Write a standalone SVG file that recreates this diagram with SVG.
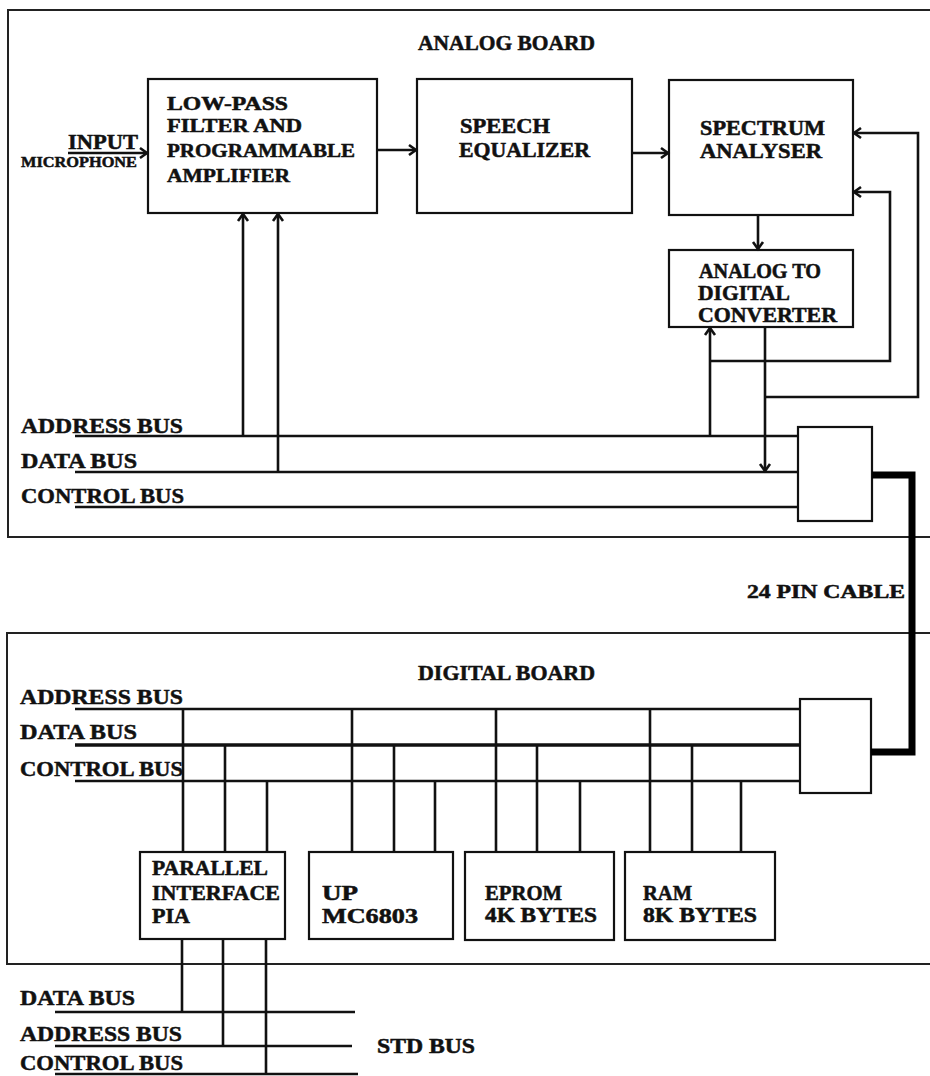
<svg xmlns="http://www.w3.org/2000/svg" width="930" height="1076" viewBox="0 0 930 1076">
<style>
text{font-family:"Liberation Serif","DejaVu Serif",serif;font-weight:bold;fill:#111;stroke:#111;stroke-width:0.5}
.t{font-size:20px}
.lp{font-size:19px}
.bus{font-size:22px}
.sm{font-size:15px}
.box{fill:none;stroke:#111;stroke-width:2.2}
.ln{fill:none;stroke:#111;stroke-width:2.6}
.frame{fill:none;stroke:#222;stroke-width:2}
.cable{fill:none;stroke:#000;stroke-width:7;stroke-linejoin:miter}
</style>
<defs>
<marker id="ar" markerUnits="userSpaceOnUse" markerWidth="14" markerHeight="14" refX="0" refY="0" viewBox="-10 -7 12 14" orient="auto">
<path d="M-7,-5 L0,0 L-7,5" fill="none" stroke="#111" stroke-width="2.6"/>
</marker>
</defs>
<rect width="930" height="1076" fill="#fff"/>

<g id="analog-board">
<path class="frame" d="M930,10 H8 V537 H930"/>
<text x="418" y="50" style="font-size:20px" textLength="177" lengthAdjust="spacingAndGlyphs">ANALOG BOARD</text>
</g>

<g id="input">
<text x="68" y="149" style="font-size:21px" textLength="70" lengthAdjust="spacingAndGlyphs">INPUT</text>
<text x="21" y="167" class="sm" textLength="116" lengthAdjust="spacingAndGlyphs">MICROPHONE</text>
</g>

<g id="lpf">
<rect class="box" x="148" y="79" width="229" height="134"/>
<text x="167" y="110" class="lp" textLength="121" lengthAdjust="spacingAndGlyphs">LOW-PASS</text>
<text x="167" y="132" class="lp" textLength="135" lengthAdjust="spacingAndGlyphs">FILTER AND</text>
<text x="167" y="157" class="lp" textLength="188" lengthAdjust="spacingAndGlyphs">PROGRAMMABLE</text>
<text x="167" y="182" class="lp" textLength="123" lengthAdjust="spacingAndGlyphs">AMPLIFIER</text>
</g>

<g id="speech-equalizer">
<rect class="box" x="417" y="79" width="215" height="134"/>
<text x="460" y="133" class="t" textLength="90" lengthAdjust="spacingAndGlyphs">SPEECH</text>
<text x="459" y="157" class="t" textLength="131" lengthAdjust="spacingAndGlyphs">EQUALIZER</text>
</g>

<g id="spectrum-analyser">
<rect class="box" x="669" y="80" width="184" height="135"/>
<text x="700" y="135" class="t" textLength="125" lengthAdjust="spacingAndGlyphs">SPECTRUM</text>
<text x="700" y="158" class="t" textLength="122" lengthAdjust="spacingAndGlyphs">ANALYSER</text>
</g>

<g id="adc">
<rect class="box" x="669" y="250" width="184" height="77"/>
<text x="699" y="278" class="t" textLength="122" lengthAdjust="spacingAndGlyphs">ANALOG TO</text>
<text x="698" y="300" class="t" textLength="92" lengthAdjust="spacingAndGlyphs">DIGITAL</text>
<text x="698" y="322" class="t" textLength="139" lengthAdjust="spacingAndGlyphs">CONVERTER</text>
</g>

<g id="analog-interface">
<rect class="box" x="798" y="427" width="74" height="94"/>
</g>

<g id="analog-bus-labels">
<text x="21" y="433" class="bus" textLength="162" lengthAdjust="spacingAndGlyphs">ADDRESS BUS</text>
<text x="21" y="468" class="bus" textLength="116" lengthAdjust="spacingAndGlyphs">DATA BUS</text>
<text x="21" y="503" class="bus" textLength="163" lengthAdjust="spacingAndGlyphs">CONTROL BUS</text>
</g>

<g id="cable-label">
<text x="747" y="598" style="font-size:18px" textLength="158" lengthAdjust="spacingAndGlyphs">24 PIN CABLE</text>
</g>

<g id="digital-board">
<path class="frame" d="M930,633 H7 V964 H930"/>
<text x="418" y="680" style="font-size:20px" textLength="177" lengthAdjust="spacingAndGlyphs">DIGITAL BOARD</text>
</g>

<g id="digital-bus-labels">
<text x="20" y="704" class="bus" textLength="163" lengthAdjust="spacingAndGlyphs">ADDRESS BUS</text>
<text x="20" y="739" class="bus" textLength="117" lengthAdjust="spacingAndGlyphs">DATA BUS</text>
<text x="20" y="776" class="bus" textLength="163" lengthAdjust="spacingAndGlyphs">CONTROL BUS</text>
</g>

<g id="digital-interface">
<rect class="box" x="800" y="699" width="71" height="94"/>
</g>

<g id="pia">
<rect class="box" x="140" y="852" width="145" height="87"/>
<text x="152" y="875" class="t" textLength="116" lengthAdjust="spacingAndGlyphs">PARALLEL</text>
<text x="152" y="900" class="t" textLength="128" lengthAdjust="spacingAndGlyphs">INTERFACE</text>
<text x="152" y="923" class="t" textLength="38" lengthAdjust="spacingAndGlyphs">PIA</text>
</g>

<g id="up">
<rect class="box" x="309" y="852" width="144" height="87"/>
<text x="322" y="900" class="t" textLength="36" lengthAdjust="spacingAndGlyphs">UP</text>
<text x="322" y="923" class="t" textLength="96" lengthAdjust="spacingAndGlyphs">MC6803</text>
</g>

<g id="eprom">
<rect class="box" x="465" y="852" width="149" height="88"/>
<text x="485" y="900" class="t" textLength="77" lengthAdjust="spacingAndGlyphs">EPROM</text>
<text x="485" y="922" class="t" textLength="112" lengthAdjust="spacingAndGlyphs">4K BYTES</text>
</g>

<g id="ram">
<rect class="box" x="625" y="852" width="150" height="88"/>
<text x="643" y="900" class="t" textLength="49" lengthAdjust="spacingAndGlyphs">RAM</text>
<text x="643" y="922" class="t" textLength="114" lengthAdjust="spacingAndGlyphs">8K BYTES</text>
</g>

<g id="std-bus-labels">
<text x="20" y="1005" class="bus" textLength="115" lengthAdjust="spacingAndGlyphs">DATA BUS</text>
<text x="20" y="1041" class="bus" textLength="162" lengthAdjust="spacingAndGlyphs">ADDRESS BUS</text>
<text x="20" y="1070" class="bus" textLength="163" lengthAdjust="spacingAndGlyphs">CONTROL BUS</text>
<text x="377" y="1053" style="font-size:20px" textLength="98" lengthAdjust="spacingAndGlyphs">STD BUS</text>
</g>

<g id="connectors">
<path class="ln" d="M68,153 H147" marker-end="url(#ar)"/>
<path class="ln" d="M377,150 H416" marker-end="url(#ar)"/>
<path class="ln" d="M632,153 H668" marker-end="url(#ar)"/>
<path class="ln" d="M758,215 V249" marker-end="url(#ar)"/>
<path class="ln" d="M765,397 H918 V133 H854" marker-end="url(#ar)"/>
<path class="ln" d="M710,361 H890 V192 H854" marker-end="url(#ar)"/>
<path class="ln" d="M710,436 V328" marker-end="url(#ar)"/>
<path class="ln" d="M765,328 V471" marker-end="url(#ar)"/>
<path class="ln" d="M243,436 V214" marker-end="url(#ar)"/>
<path class="ln" d="M278,472 V214" marker-end="url(#ar)"/>
<path class="ln" d="M75,436 H798 M75,472 H798 M75,507 H798"/>
<path class="cable" d="M872,475 H912 V752 H871"/>
<path class="ln" d="M75,709 H800 M75,781 H800"/>
<path class="ln" style="stroke-width:3.4" d="M75,745 H800"/>
<path class="ln" d="M183,709 V852 M225,745 V852 M267,781 V852 M352,709 V852 M394,745 V852 M435,781 V852 M496,709 V852 M537,745 V852 M580,781 V852 M650,709 V852 M692,745 V852 M741,781 V852"/>
<path class="ln" d="M182,939 V1012 M223,939 V1046 M266,939 V1074"/>
<path class="ln" d="M55,1012 H355 M55,1046 H352 M55,1074 H358"/>
</g>
</svg>
